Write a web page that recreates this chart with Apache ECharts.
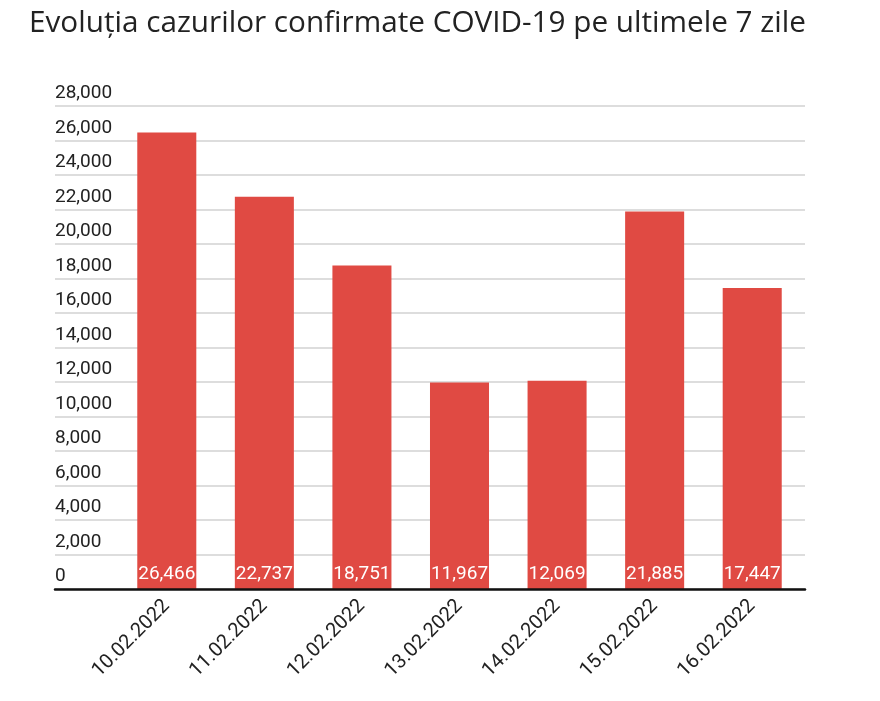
<!DOCTYPE html>
<html>
<head>
<meta charset="utf-8">
<script src="https://cdn.jsdelivr.net/npm/echarts@6/dist/echarts.min.js"></script>
<style>
html,body{margin:0;padding:0;background:#fff;}
#chart{width:880px;height:701px;}
</style>
</head>
<body>
<div id="chart"></div>
<script>
var titleText = 'Evoluția cazurilor confirmate COVID-19 pe ultimele 7 zile';
var categories = ['10.02.2022', '11.02.2022', '12.02.2022', '13.02.2022', '14.02.2022', '15.02.2022', '16.02.2022'];
var cases = [26466, 22737, 18751, 11967, 12069, 21885, 17447];
var yMin = 0, yMax = 28000, yStep = 2000;

function fmt(v) { return String(v).replace(/\B(?=(\d{3})+(?!\d))/g, ','); }

var chart = echarts.init(document.getElementById('chart'), null, {renderer: 'canvas'});
var option = {
  animation: false,
  backgroundColor: '#ffffff',
  title: {
    text: titleText,
    left: 24, top: 4,
    textStyle: {fontFamily: 'Open Sans', fontSize: 29.7, fontWeight: 'normal', color: '#222222'}
  },
  grid: [
    {left: 55, right: 75, top: 106, bottom: 112},
    {left: 118, right: 79, top: 106, bottom: 112}
  ],
  xAxis: [
    {gridIndex: 0, type: 'category', data: categories, axisLabel: {show: false}, axisTick: {show: false},
     axisLine: {show: true, lineStyle: {color: '#111111', width: 2.5}}, splitLine: {show: false}, z: 5},
    {gridIndex: 1, type: 'category', data: categories, axisTick: {show: false},
     axisLine: {show: false},
     axisLabel: {rotate: 45, margin: 14, fontFamily: 'Roboto', fontSize: 20, color: '#222222', interval: 0}}
  ],
  yAxis: [
    {gridIndex: 0, type: 'value', min: yMin, max: yMax, interval: yStep,
     axisLine: {show: false}, axisTick: {show: false},
     splitLine: {show: true, lineStyle: {color: '#dddddd', width: 2}},
     axisLabel: {inside: true, margin: 0, align: 'left', verticalAlign: 'bottom', padding: [0, 0, 3, 0],
       fontFamily: 'Roboto', fontSize: 19, color: '#222222', formatter: fmt, showMinLabel: true, showMaxLabel: true}},
    {gridIndex: 1, type: 'value', min: yMin, max: yMax, interval: yStep, show: false, splitLine: {show: false}}
  ],
  series: [{
    type: 'bar',
    xAxisIndex: 1, yAxisIndex: 1,
    data: cases,
    barWidth: '60.5%',
    itemStyle: {color: '#e04a43'},
    z: 3,
    label: {show: true, position: 'insideBottom', distance: 5, color: '#ffffff',
      fontFamily: 'Roboto', fontSize: 19, formatter: function (p) { return fmt(p.value); }}
  }]
};
chart.setOption(option);
</script>
</body>
</html>
